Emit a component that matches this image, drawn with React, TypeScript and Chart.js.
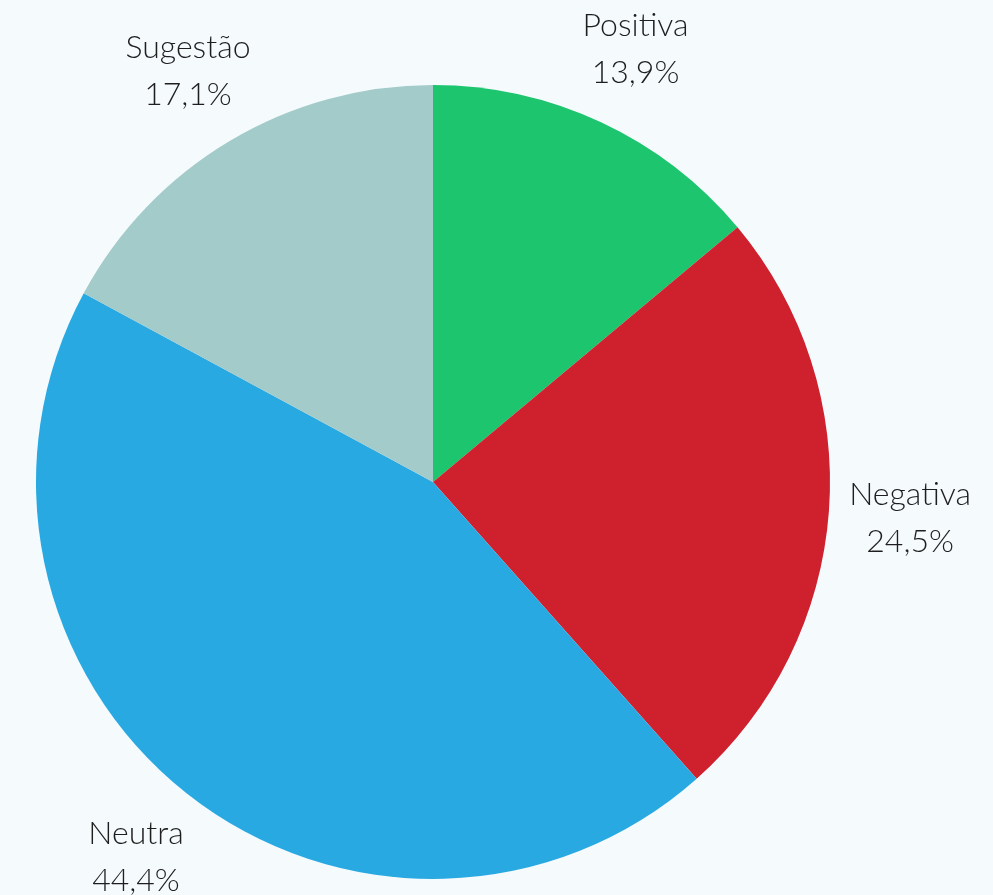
import React, { useEffect, useRef } from "react";
import { Chart, registerables } from "chart.js";

Chart.register(...registerables);

const categories = ["Positiva", "Negativa", "Neutra", "Sugestão"];
const values = [13.9, 24.5, 44.4, 17.1];
const valueLabels = ["13,9%", "24,5%", "44,4%", "17,1%"];
const colors = ["#1dc56e", "#cf202d", "#29a9e1", "#a2cbca"];

const labelPlugin = {
  id: "outerLabels",
  afterDatasetsDraw(chart: any) {
    const ctx = chart.ctx;
    const meta = chart.getDatasetMeta(0);
    ctx.save();
    ctx.fillStyle = "#1e1e1e";
    ctx.font = "300 32px Lato, 'Open Sans', sans-serif";
    ctx.textAlign = "center";
    ctx.textBaseline = "middle";
    meta.data.forEach((arc: any, i: number) => {
      const p = arc.getProps(["x", "y", "startAngle", "endAngle", "outerRadius"], true);
      const mid = (p.startAngle + p.endAngle) / 2;
      const r = p.outerRadius * 1.205;
      const cx = p.x + Math.cos(mid) * r;
      const cy = p.y + Math.sin(mid) * r;
      ctx.fillText(categories[i], cx, cy - 23);
      ctx.fillText(valueLabels[i], cx, cy + 24);
    });
    ctx.restore();
  },
};

export default function App() {
  const ref = useRef<HTMLCanvasElement>(null);
  useEffect(() => {
    document.body.style.margin = "0";
    const chart = new Chart(ref.current as HTMLCanvasElement, {
      type: "pie",
      data: {
        labels: categories,
        datasets: [
          {
            data: values,
            backgroundColor: colors,
            borderWidth: 0,
          },
        ],
      },
      options: {
        responsive: false,
        animation: false,
        layout: { padding: { left: 36, right: 163, top: 85, bottom: 16 } },
        plugins: {
          legend: { display: false },
          tooltip: { enabled: false },
        },
      },
      plugins: [labelPlugin],
    } as any);
    return () => chart.destroy();
  }, []);
  return (
    <div style={{ position: "fixed", left: 0, top: 0, width: 993, height: 895, background: "#f5fafd" }}>
      <canvas ref={ref} width={993} height={895} style={{ display: "block" }} />
    </div>
  );
}
